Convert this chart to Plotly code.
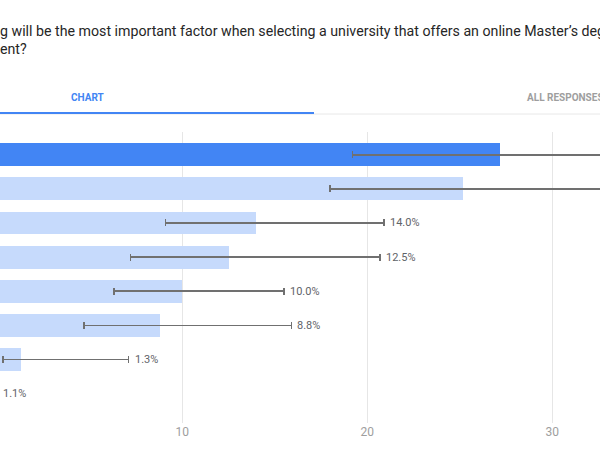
import plotly.graph_objects as go

# one row per answer option, top to bottom (the option names are cropped out of the reference)
rows = [0, 1, 2, 3, 4, 5, 6, 7]
pct = [27.2, 25.2, 14.0, 12.5, 10.0, 8.8, 1.3, 1.1]
pct_labels = ["27.2%", "25.2%", "14.0%", "12.5%", "10.0%", "8.8%", "1.3%", "1.1%"]
# confidence interval ends; the last row has no bar and no interval drawn
ci_low = [19.2, 18.0, 9.1, 7.2, 6.3, 4.7, 0.3, None]
ci_high = [35.9, 33.6, 20.9, 20.7, 15.5, 15.9, 7.1, None]
x_ticks = [10, 20, 30]

title_line1 = "g will be the most important factor when selecting a university that offers an online Master\u2019s degree"
title_line2 = "ent?"

W, H = 600, 450
TOP, BOTTOM = 132, 423
X_RANGE = [0.146, 32.58]


def py(p):
    # pixel row -> paper y
    return (BOTTOM - p) / (BOTTOM - TOP)


drawn = [i for i in rows if ci_low[i] is not None]
bar_colors = ["#4285F4" if i == 0 else "#C6DAFC" for i in drawn]

fig = go.Figure()
fig.add_trace(
    go.Bar(
        x=[pct[i] for i in drawn],
        y=drawn,
        orientation="h",
        width=0.67,
        marker=dict(color=bar_colors, line=dict(width=0)),
        error_x=dict(
            type="data",
            symmetric=False,
            array=[ci_high[i] - pct[i] for i in drawn],
            arrayminus=[pct[i] - ci_low[i] for i in drawn],
            color="#707070",
            thickness=1.6,
            width=3.5,
        ),
        hoverinfo="skip",
    )
)

annotations = []
for i in rows:
    annotations.append(
        dict(
            x=ci_high[i] if ci_high[i] is not None else X_RANGE[0],
            y=i,
            xref="x",
            yref="y",
            text=pct_labels[i],
            showarrow=False,
            xanchor="left",
            yanchor="middle",
            xshift=4 if ci_high[i] is not None else 1,
            font=dict(family="Roboto", size=11, color="#5F6368"),
        )
    )

# question text (cropped on both sides like the screenshot)
annotations.append(dict(x=-0.004, y=py(31), xref="paper", yref="paper", text=title_line1, showarrow=False,
                        xanchor="left", yanchor="middle", font=dict(family="Roboto", size=14.2, color="#262626")))
annotations.append(dict(x=-0.004, y=py(49), xref="paper", yref="paper", text=title_line2, showarrow=False,
                        xanchor="left", yanchor="middle", font=dict(family="Roboto", size=14.2, color="#262626")))
# tabs
annotations.append(dict(x=87.5 / W, y=py(97), xref="paper", yref="paper", text="<b>CHART</b>", showarrow=False,
                        xanchor="center", yanchor="middle", font=dict(family="Roboto", size=10, color="#4285F4")))
annotations.append(dict(x=525 / W, y=py(97), xref="paper", yref="paper", text="<b>ALL RESPONSES</b>", showarrow=False,
                        xanchor="left", yanchor="middle", font=dict(family="Roboto", size=10, color="#9E9E9E")))

shapes = [
    dict(type="line", xref="paper", yref="paper", x0=0, x1=1, y0=py(114), y1=py(114),
         line=dict(color="#E8E8E8", width=1)),
    dict(type="line", xref="paper", yref="paper", x0=0, x1=314 / W, y0=py(113), y1=py(113),
         line=dict(color="#4285F4", width=2)),
]

fig.update_layout(
    width=W,
    height=H,
    margin=dict(l=0, r=0, t=TOP, b=H - BOTTOM, autoexpand=False),
    paper_bgcolor="white",
    plot_bgcolor="white",
    showlegend=False,
    annotations=annotations,
    shapes=shapes,
    bargap=0,
    xaxis=dict(
        range=X_RANGE,
        tickvals=x_ticks,
        showgrid=True,
        gridcolor="#E6E6E6",
        gridwidth=1,
        zeroline=False,
        showline=False,
        ticks="",
        tickfont=dict(family="Roboto", size=12, color="#9E9E9E"),
    ),
    yaxis=dict(
        range=[7.86, -0.666],
        showticklabels=False,
        showgrid=False,
        zeroline=False,
        showline=False,
    ),
)

# drop the default page margin so the figure sits at the window's corner
fig.write_html(
    "out.html",
    config={"displayModeBar": False},
    post_script="document.body.style.margin='0';",
)
